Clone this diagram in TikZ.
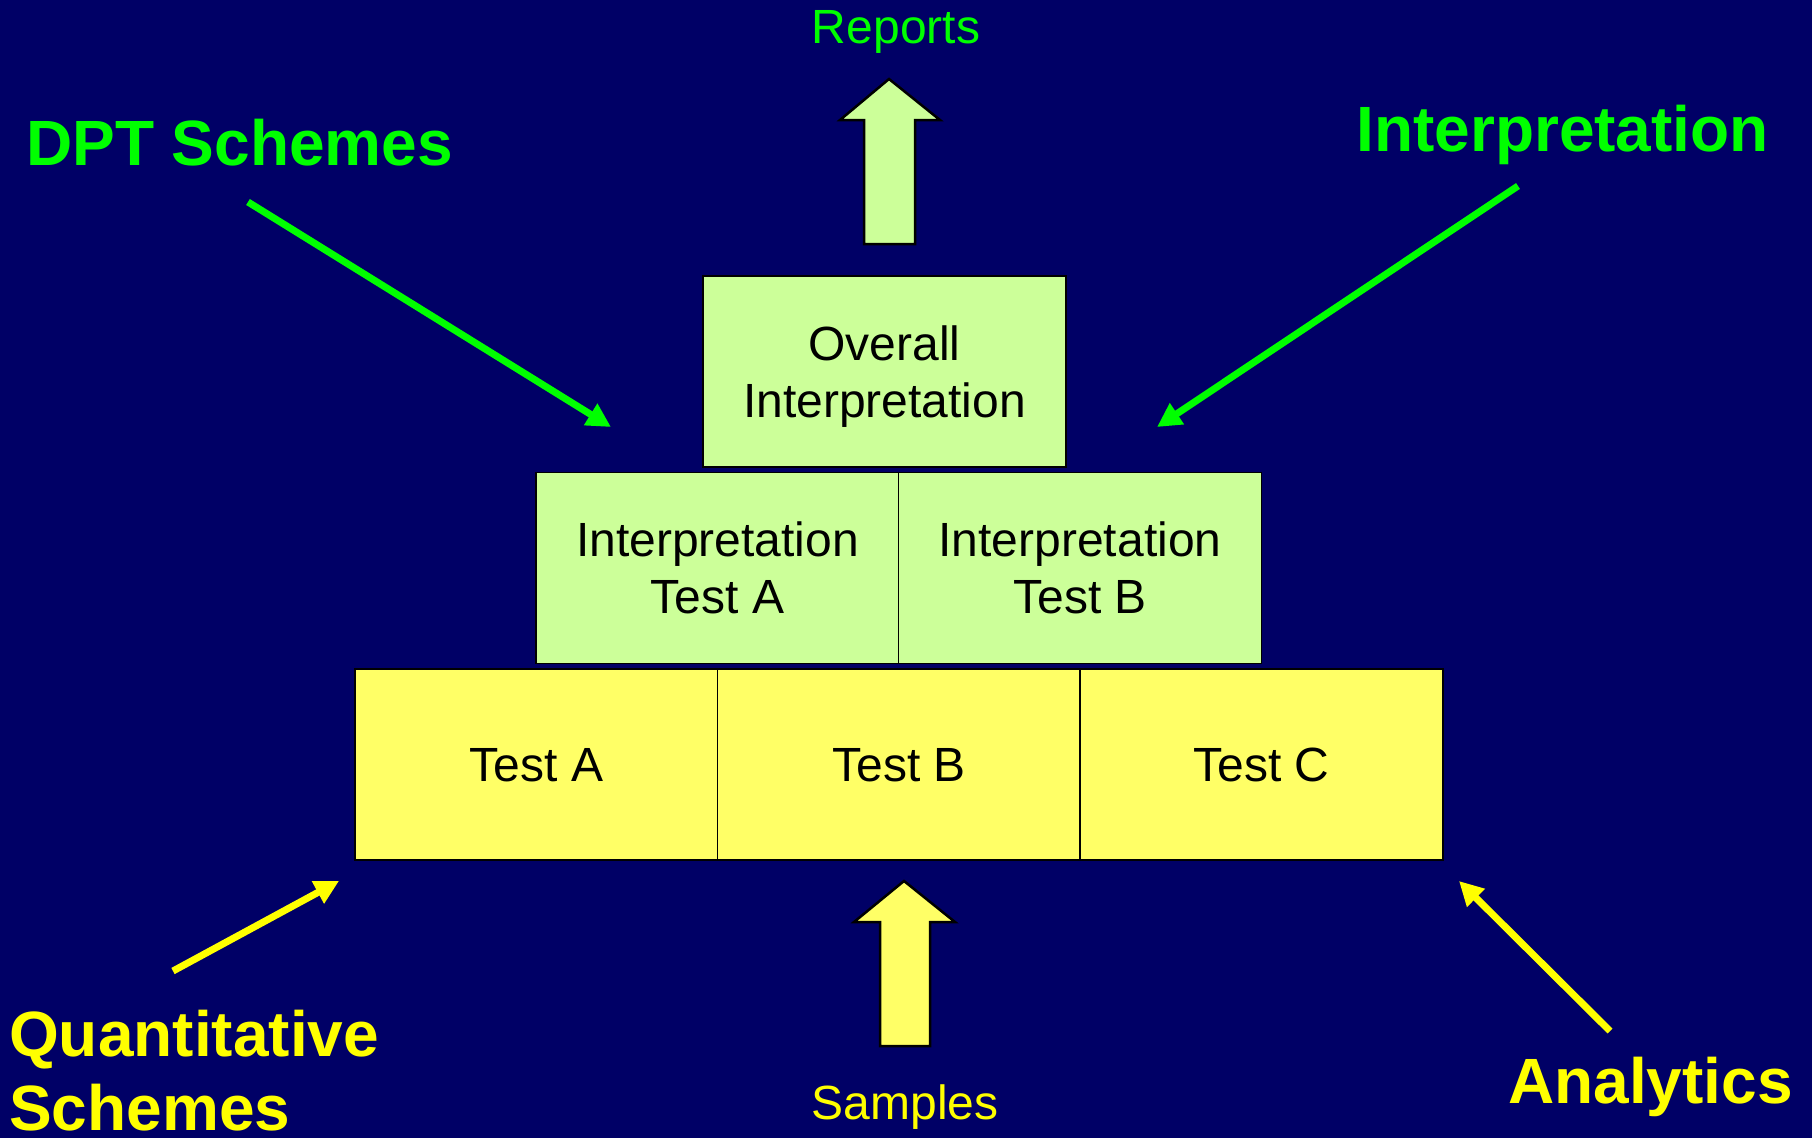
\documentclass[tikz,border=0pt]{standalone}
\usepackage{fontspec}
\setmainfont{Liberation Sans}
\usetikzlibrary{arrows.meta}
\definecolor{bg}{HTML}{000066}
\definecolor{lgreen}{HTML}{CCFF99}
\definecolor{lyellow}{HTML}{FFFF66}
\definecolor{tgreen}{HTML}{00FF00}
\definecolor{tyellow}{HTML}{FFFF00}
\tikzset{
  boxbase/.style={draw=black, line width=1.8pt, inner sep=0pt, minimum width=363pt, minimum height=191pt, align=center, text depth=0pt, font=\fontsize{48}{57}\selectfont, text=black},
  gbox/.style={boxbase, fill=lgreen},
  ybox/.style={boxbase, fill=lyellow},
  smalltext/.style={inner sep=0pt, font=\fontsize{48}{57}\selectfont},
  bigtext/.style={inner sep=0pt, font=\fontsize{64}{74}\selectfont\bfseries},
  garrow/.style={draw=tgreen, line width=7pt, -{Triangle[length=24pt,width=24pt]}},
  yarrow/.style={draw=tyellow, line width=7pt, -{Triangle[length=24pt,width=24pt]}},
  blockarrow/.style={draw=black, line width=2.5pt, line join=miter}
}
\begin{document}
\begin{tikzpicture}[x=1pt,y=-1pt]
\fill[bg] (0,0) rectangle (1812,1138);
\useasboundingbox (0,0) rectangle (1812,1138);

% boxes
\node[gbox] (ov) at (884.5,371.5) {Overall\\Interpretation};
\node[gbox] (ia) at (717.5,568) {Interpretation\\Test A};
\node[gbox] (ib) at (1080,568) {Interpretation\\Test B};
\node[ybox] (ta) at (536.5,764.5) {Test A};
\node[ybox] (tb) at (899,764.5) {Test B};
\node[ybox] (tc) at (1261.5,764.5) {Test C};

% block arrows
\draw[blockarrow, fill=lgreen] (864,244) -- (864,120) -- (840,120) -- (889,79) -- (940,120) -- (915,120) -- (915,244) -- cycle;
\draw[blockarrow, fill=lyellow] (880,1046) -- (880,922) -- (854,922) -- (904,881) -- (955,922) -- (930,922) -- (930,1046) -- cycle;

% labels
\node[smalltext, text=tgreen, anchor=base] (rep) at (896,43) {Reports};
\node[smalltext, text=tyellow, anchor=base] (smp) at (905,1119) {Samples};
\node[bigtext, text=tgreen, anchor=base west] (dpt) at (26,165) {DPT Schemes};
\node[bigtext, text=tgreen, anchor=base east] (int) at (1769,151) {Interpretation};
\node[bigtext, text=tyellow, anchor=base west, align=left] (qs) at (9,1130) {Quantitative\\Schemes};
\node[bigtext, text=tyellow, anchor=base west] (an) at (1508,1103) {Analytics};

% arrow end points
\coordinate (dptS) at (248,202);
\coordinate (dptE) at (611,427);
\coordinate (intS) at (1518,186);
\coordinate (intE) at (1157,427);
\coordinate (qsS) at (173,971);
\coordinate (qsE) at (339,881);
\coordinate (anS) at (1610,1031);
\coordinate (anE) at (1459,881);

\draw[garrow] (dptS) -- (dptE);
\draw[garrow] (intS) -- (intE);
\draw[yarrow] (qsS) -- (qsE);
\draw[yarrow] (anS) -- (anE);
\end{tikzpicture}
\end{document}
